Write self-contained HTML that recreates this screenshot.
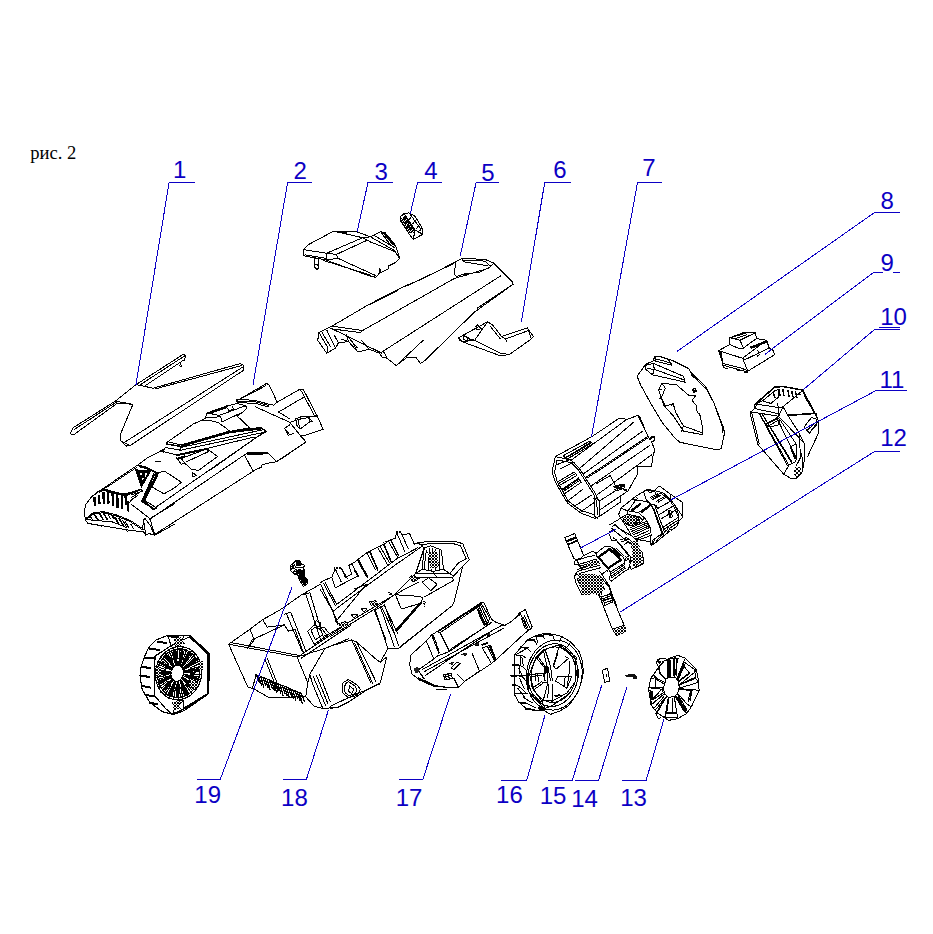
<!DOCTYPE html><html><head><meta charset="utf-8"><style>html,body{margin:0;padding:0;background:#fff}svg{display:block}</style></head><body><svg width="933" height="934" viewBox="0 0 933 934">
<defs><pattern id="h" width="3" height="3" patternUnits="userSpaceOnUse"><rect width="3" height="3" fill="#fff"/><rect width="2" height="2" fill="#000"/><rect x="2" y="2" width="1" height="1" fill="#000"/></pattern><pattern id="h2" width="4" height="4" patternUnits="userSpaceOnUse"><rect width="4" height="4" fill="#fff"/><rect width="2" height="2" fill="#000"/><rect x="2" y="2" width="2" height="2" fill="#000"/></pattern></defs>
<rect width="933" height="934" fill="#fff"/>
<path d="M136.1 384.6L183.9 353.9L185.6 355.4L184.3 360.4L181.1 361.4M139.3 385.4L185.4 355.4M144.7 386.1L180.0 362.5L181.8 366.8L179.0 365.7M136.1 384.6L153.2 388.2L240.1 363.6L243.3 365.3L243.9 370.0L130.3 445.5L126.5 446.1L120.7 440.8L120.0 435.4L132.9 404.3L115.3 401.1L72.9 427.9L70.3 433.9L73.3 435.0L117.4 403.2L132.9 404.3M155.4 388.9L241.1 365.7M242.2 367.4L124.3 442.5M115.3 401.1L136.1 384.6M74.1 429.6L116.2 402.2M120.7 440.8L124.3 442.5L130.3 445.5" fill="none" stroke="#000" stroke-width="1" stroke-linejoin="round" stroke-linecap="round" shape-rendering="crispEdges"/>
<path d="M84.6 510.0L85.7 504.7L91.1 497.2L103.9 488.0L137.7 465.0L147.9 457.5L159.7 451.6L164.0 452.1M106.1 487.7L136.3 467.7M84.6 510.0L85.2 519.7L87.9 523.4L126.4 529.8L143.6 532.0L145.7 535.2L149.0 533.6L154.8 535.2L175.0 524.0M85.7 518.6L93.2 512.7L103.9 511.6L117.9 515.4L130.7 520.7L143.6 529.3M86.3 519.5L93.4 513.8L103.9 512.7L117.7 516.5L130.2 521.6L142.5 529.8M87.3 519.7L112.5 522.0L126.4 527.4M93.2 513.2L98.0 520.7M93.9 513.0L98.7 520.5M98.0 512.2L102.9 519.7M98.7 512.0L103.5 519.5M102.3 512.0L107.2 519.7M103.0 512.0L107.8 519.7M110.4 513.2L113.8 518.8M111.0 513.2L114.4 518.8M114.7 517.0L118.9 525.0M115.3 517.0L119.6 525.0M118.9 518.6L123.2 526.1M119.6 518.6L123.9 526.1M125.4 521.8L128.6 527.4M90.0 515.4L92.7 520.7M107.2 512.7L110.4 518.6M122.7 520.2L126.4 526.6M130.7 524.0L133.4 528.8M98.0 491.3L103.9 488.6L110.4 490.7L117.9 492.9L126.4 493.9L131.8 492.3L139.3 489.7M98.0 492.0L103.9 489.4L110.4 491.6L117.9 493.7L126.4 494.8L131.8 493.2L139.3 490.5M91.1 497.2L98.0 491.6M128.6 492.9L141.5 489.7L142.5 491.3L130.7 495.0M131.8 497.2L139.3 492.9M130.7 500.4L138.2 495.0M128.6 503.6L135.0 497.2M128.1 501.4L128.6 511.1M127.3 501.4L127.8 511.1M135.6 469.8L150.6 470.9L141.5 487.0L135.6 469.8M137.7 465.0L144.7 466.6L154.8 471.4L158.6 473.0M139.3 466.1L150.0 469.3L156.5 472.5M139.3 466.7L150.0 469.9L155.9 472.9M154.8 471.4L141.5 501.4L154.3 509.5L156.5 507.9L144.7 500.4L158.1 473.0M143.6 500.4L153.2 508.4M143.0 501.0L152.8 509.2M155.9 472.0L142.5 500.9M157.0 472.5L143.6 500.6M158.6 473.0L164.0 470.9L175.0 477.9M158.6 473.0L152.2 487.0L164.0 493.9L175.0 487.5M131.8 504.7L150.0 518.6L175.0 503.6M150.0 518.6L154.8 535.2M143.6 519.7L145.7 535.2M143.1 520.2L145.2 518.6L150.0 525.0L154.3 534.7M143.6 519.7L142.5 529.3M155.9 461.6L160.7 461.0M155.9 462.0L160.7 461.5M100.2 525.0L101.3 526.3M126.4 529.8L127.5 531.5" fill="none" stroke="#000" stroke-width="1" stroke-linejoin="round" stroke-linecap="round" shape-rendering="crispEdges"/>
<path d="M94.1 498.0L94.5 505.2M95.0 498.0L95.5 505.2M98.4 495.6L98.8 503.6M99.3 495.6L99.8 503.6M103.1 492.9L103.5 503.6M104.0 492.9L104.5 503.6M107.4 492.3L107.8 503.1M108.3 492.3L108.8 503.1M112.2 492.9L112.6 504.9M113.2 492.9L113.6 504.9M116.6 493.9L117.0 507.0M117.6 493.9L118.0 507.0M121.3 495.0L121.7 508.4M122.3 495.0L122.7 508.4M125.2 495.6L125.6 504.1M126.1 495.6L126.6 504.1" fill="none" stroke="#000" stroke-width="1.6" stroke-linejoin="round" stroke-linecap="round" shape-rendering="crispEdges"/>
<path d="M155.7 533.8L256.1 469.4L262.1 466.9L261.2 465.2L267.2 463.4L276.6 461.7L290.0 453.2M149.7 519.2L243.2 455.7M244.9 455.7L252.6 470.3M243.2 455.7L248.3 452.3L267.2 452.3L276.6 461.7M246.6 454.0L267.2 453.2M247.0 454.7L267.2 453.8M152.3 509.7L264.6 431.7M155.4 461.7L160.5 461.2M181.4 458.3L207.2 448.9L217.5 456.6L198.6 470.3L191.7 469.4L184.9 463.4L181.4 458.3M186.6 461.7L208.9 451.4M177.2 458.3L184.9 455.7L181.4 460.0M178.0 459.2L184.5 456.8M176.3 457.4L181.4 464.3L183.2 463.4M192.6 472.9L196.9 475.4L192.6 476.6L192.6 472.9M173.7 477.0L181.4 482.3L174.2 488.0" fill="none" stroke="#000" stroke-width="1" stroke-linejoin="round" stroke-linecap="round" shape-rendering="crispEdges"/>
<path d="M165.9 443.1L193.6 423.8L201.3 420.6L209.0 420.3L218.0 422.5L224.5 427.0L229.6 431.1M205.2 418.0L207.1 412.9L227.0 405.8L237.3 403.6L245.7 405.8L247.0 408.4L242.5 412.2L221.9 421.9L220.6 416.7L205.8 418.0L201.3 420.6M207.1 412.9L219.3 415.4L220.6 416.7M219.3 415.4L243.7 406.4L245.7 405.8M211.6 412.2L227.0 407.1M207.5 413.4L227.3 406.3M208.0 413.9L227.0 407.5M227.0 407.7L229.0 410.9L233.5 409.0L232.2 406.4M242.5 412.2L237.3 416.1L249.5 427.7L229.6 431.5M166.6 443.7L180.1 446.0L180.7 450.2L165.3 447.6L163.4 449.5M167.9 441.8L180.7 445.0M165.9 443.1L167.9 441.8M166.8 444.2L180.2 446.6M180.7 445.0L228.3 431.5L261.1 427.4L266.3 431.5L256.6 437.3M181.4 447.3L263.7 429.6M180.7 450.2L266.3 431.8M181.0 445.8L228.6 432.2L261.2 428.0M181.2 446.6L229.0 432.9L262.4 428.8M176.2 454.7L206.4 448.6L252.7 437.3L256.6 437.3M256.6 437.3L210.3 470.0M206.4 448.6L207.7 450.8M176.9 455.6L206.4 449.6M163.4 449.5L155.0 454.0M165.3 447.6L162.7 451.4L176.2 454.7" fill="none" stroke="#000" stroke-width="1" stroke-linejoin="round" stroke-linecap="round" shape-rendering="crispEdges"/>
<path d="M236.6 400.9L266.6 383.4L269.2 385.1L277.2 402.2L273.5 405.2M242.6 397.8L265.7 385.8M236.6 400.0L239.2 399.2L255.5 400.5L269.2 404.3L273.5 405.2M237.5 402.6L255.5 403.4L268.3 406.9M236.6 400.0L237.5 402.6M236.9 401.2L255.5 401.9L268.8 405.5M277.2 402.2L300.0 389.2L303.5 389.7L317.2 416.3L323.2 429.2L303.5 436.0L300.0 435.2M300.0 389.2L302.6 393.2L313.8 414.6M278.6 412.0L303.5 397.4M278.6 412.0L289.8 418.9M255.5 406.9L289.8 422.3L298.3 419.7L317.2 415.4M289.8 422.3L300.0 435.2L306.1 442.0L277.8 460.9M295.8 418.9L301.8 416.0L307.8 416.0L310.3 421.4L300.0 429.2L296.6 424.9L295.8 418.9M307.8 416.0L312.9 416.3L317.2 416.0M301.8 416.0L298.3 421.4L300.0 429.2M308.6 417.2L312.1 421.4L310.3 421.4M289.8 424.9L284.6 428.3L288.0 435.2L293.2 433.5M285.5 429.2L289.8 434.8" fill="none" stroke="#000" stroke-width="1" stroke-linejoin="round" stroke-linecap="round" shape-rendering="crispEdges"/>
<path d="M303.6 249.7L307.9 244.9L333.6 231.2L356.7 231.7L370.5 236.9L380.7 231.7L385.0 232.6L396.2 247.2L399.6 258.3L395.3 262.6L388.5 266.0L388.5 268.6L380.7 272.9L379.9 268.6L379.0 273.7L375.6 277.2L370.5 276.3L325.9 260.0L303.6 255.7L303.6 249.7M303.6 249.7L326.7 253.2L336.2 254.5M326.7 253.2L362.7 237.7L370.5 236.9M336.2 254.5L367.0 240.3M333.6 231.2L362.7 237.7M336.2 254.5L337.9 258.3L325.9 260.0M337.9 258.3L375.6 275.5M326.7 253.2L325.9 260.0M370.5 236.9L394.5 250.6L399.6 258.3M373.9 235.2L395.3 248.0M362.7 237.7L370.5 242.0L394.5 251.4M380.7 231.7L382.5 234.3L391.0 245.4L395.3 248.0M385.0 232.6L393.6 242.9L396.2 247.2M382.8 232.6L392.4 244.2M383.8 232.9L393.1 243.6M381.6 233.4L390.2 244.9M314.7 257.5L314.7 267.7L318.2 268.6L319.0 259.2M314.7 264.3L318.2 265.2M314.2 267.7L317.3 269.5L318.2 268.6M305.3 254.9L325.9 258.3M323.3 260.4L370.5 275.1M339.6 231.7L346.4 232.6M339.9 232.2L346.4 233.1" fill="none" stroke="#000" stroke-width="1" stroke-linejoin="round" stroke-linecap="round" shape-rendering="crispEdges"/>
<path d="M400.0 217.1L403.9 213.7L409.0 212.9L415.0 216.3L421.9 227.4L422.8 234.3L413.3 239.4L408.2 232.6L400.5 220.6L400.0 217.1M403.9 213.7L406.5 217.1L415.0 230.0L422.8 234.3M409.0 212.9L411.6 216.3L420.2 228.3M415.0 230.0L413.3 239.4M400.5 219.7L409.0 233.4M401.7 218.5L410.2 232.9M403.0 217.5L412.0 232.6M404.4 216.8L413.3 232.6M405.8 217.1L414.2 231.2M411.6 216.3L409.6 219.2M415.0 220.6L413.0 223.5M418.5 225.7L416.4 228.6M421.9 227.4L419.8 230.9M401.0 221.4L404.8 218.9M403.0 224.9L406.8 222.0M405.1 228.0L408.9 225.0M407.2 231.0L410.9 228.1" fill="none" stroke="#000" stroke-width="1" stroke-linejoin="round" stroke-linecap="round" shape-rendering="crispEdges"/>
<path d="M331.9 326.2L369.2 304.3L405.2 285.8L423.2 278.6L454.1 262.6L461.8 258.5L484.9 259.3L493.9 263.2L511.9 281.2L513.2 284.2L474.6 312.0L424.5 360.9L420.6 363.5L415.5 357.0L407.7 357.0L396.2 365.5L387.2 358.3L383.3 351.1M369.7 304.8L397.5 290.7M405.7 286.3L453.5 263.7M455.3 262.6L454.6 274.7L456.6 276.5L464.3 274.0L479.8 272.2L490.1 267.0L493.9 263.2M461.8 258.5L464.3 261.9L487.5 265.7M461.8 260.1L484.9 261.1L490.1 265.7M464.3 274.0L466.9 276.0M331.9 326.2L362.7 330.5L360.2 332.6L330.6 328.7M362.7 330.5L454.1 278.6L490.1 267.8M383.3 351.1L500.4 276.0M331.9 328.7L382.0 353.2M331.9 326.2L319.0 332.6L317.7 340.3L326.7 353.2L335.7 348.0L338.3 342.9L348.6 341.6L357.6 351.9L369.2 349.3L379.5 353.2L383.3 351.1M319.0 332.6L328.0 348.0L326.7 353.2M326.7 330.0L334.4 345.5L335.7 348.0M338.3 342.9L334.4 335.2M348.6 341.6L346.0 333.9M357.6 351.9L352.4 341.6M369.2 349.3L361.4 340.3M321.6 331.6L330.6 346.8M379.5 353.2L382.0 357.0L387.2 358.3M340.9 339.0L348.6 341.6M348.6 337.7L357.6 348.0M477.2 308.2L513.2 284.2M396.2 365.5L423.2 340.3" fill="none" stroke="#000" stroke-width="1" stroke-linejoin="round" stroke-linecap="round" shape-rendering="crispEdges"/>
<path d="M458.7 337.7L487.5 321.8L492.6 324.9L501.6 336.5L527.4 328.0L533.3 336.5L531.2 339.0L509.4 354.5L500.4 355.8L461.8 341.6L458.7 337.7M487.5 321.8L474.6 340.3L461.8 341.6M464.3 335.7L469.5 339.0L474.6 340.3M477.2 324.9L481.1 328.7L477.2 330.0L475.9 326.2L477.2 324.9M463.1 336.5L468.2 337.2L467.4 340.3L463.1 339.8L463.1 336.5M501.6 336.5L505.5 339.0L528.6 330.5L527.4 328.0M505.5 339.0L506.8 341.6M474.6 340.3L500.4 353.2L509.4 354.5M490.1 326.2L500.4 339.0M528.6 330.5L531.2 339.0M458.7 337.7L459.7 340.3L461.8 341.6" fill="none" stroke="#000" stroke-width="1" stroke-linejoin="round" stroke-linecap="round" shape-rendering="crispEdges"/>
<path d="M555.4 456.6L552.0 472.0L555.4 482.3L567.4 502.9L581.2 513.2L594.9 518.3L599.2 516.6L599.2 501.2L594.9 492.6L579.4 468.6L570.9 460.0L555.4 456.6M557.1 460.0L554.6 472.0L557.1 481.5L568.3 501.2L581.2 510.6L594.9 514.9M557.1 460.0L570.9 462.6L578.6 470.3L593.2 493.5L596.6 501.2L597.5 514.9M555.4 456.6L591.4 436.9L618.9 418.5L627.5 419.2L637.8 415.4L639.5 416.3L644.6 428.3M570.9 460.4L625.7 420.2M579.4 468.6L633.5 422.3M583.7 473.7L642.9 430.9M586.3 477.2L647.2 436.9M587.0 478.2L647.7 438.1M591.4 485.7L649.8 445.4M596.6 495.2L651.5 454.9M637.8 415.4L642.9 425.7L649.8 439.4L654.0 436.9L654.9 440.3L651.5 442.0L654.9 449.7L653.2 454.9L651.5 466.9L637.8 466.0L637.8 473.7L627.5 491.8L625.7 489.2M649.8 439.4L651.5 436.9L654.0 436.0L654.0 436.9M599.2 501.2L620.6 487.5L627.5 491.8M599.2 516.6L620.6 502.0L620.9 496.0M600.0 509.8L625.7 492.6M595.7 484.0L610.3 475.5L615.5 485.7L624.0 484.0L624.9 487.5L617.2 490.9M613.7 486.6L624.0 485.4M614.1 487.8L623.7 486.6M614.8 489.2L622.3 488.1M563.2 455.7L589.7 441.2L593.2 443.7L566.6 459.2L563.2 455.7M570.0 454.9L589.7 443.7M568.3 456.6L591.4 442.9M565.7 457.5L590.6 442.4M569.2 458.0L592.3 444.2M557.1 482.3L574.3 472.0L576.9 475.5L558.9 485.7M562.3 489.2L578.6 478.0L581.2 482.3L564.9 493.5M560.6 468.6L574.3 462.1M567.4 501.2L582.9 489.2M558.0 484.0L575.2 473.7M563.7 491.2L579.8 480.3M563.2 490.0L579.1 478.9M555.4 465.2L569.2 460.0M574.3 506.3L591.4 495.2M581.2 511.5L594.9 502.0M594.9 499.5L594.9 516.6L597.5 518.3M593.2 498.6L596.6 497.8L599.2 501.2" fill="none" stroke="#000" stroke-width="1" stroke-linejoin="round" stroke-linecap="round" shape-rendering="crispEdges"/>
<path d="M637.1 376.3L645.7 364.3L653.4 360.9L654.3 356.6L661.2 356.6L671.4 360.0L688.6 368.6L691.2 372.9L705.7 386.6L713.5 402.0L722.9 426.0L724.6 432.9L721.2 448.3L717.8 450.0L680.0 442.3L674.9 438.0L662.9 423.5L650.9 403.7L640.6 384.9L637.1 376.3M691.2 372.9L692.0 375.4L706.6 389.2L714.3 403.7L722.0 426.0L722.9 432.9M645.7 365.2L653.4 363.4L683.5 376.3L685.2 382.3L678.3 380.6L652.6 374.9L645.7 369.4L645.7 365.2M653.4 363.4L654.3 369.4L683.5 379.7M654.3 369.4L652.6 374.9M647.4 368.6L654.3 369.4M653.4 358.3L669.7 362.6L671.4 365.2L654.3 360.9M661.2 357.1L668.0 359.2L671.4 363.4M655.2 357.4L655.2 360.5M662.0 383.2L676.6 384.9L688.6 395.2L695.5 396.0L692.0 400.3L696.3 405.5L697.2 412.3L699.7 414.0L702.3 426.0L702.3 434.6L683.5 431.2L673.2 415.7L663.7 405.5L658.6 390.0L662.0 383.2M662.0 383.2L665.4 388.3L661.2 397.7L665.4 406.3L673.2 403.7L675.7 412.3L683.5 426.0L702.3 432.9M658.6 390.0L661.2 389.2M661.2 397.7L659.4 398.6M673.2 403.7L671.4 405.5M683.5 426.0L681.7 431.2M692.0 389.2L695.5 388.3L696.3 391.7L693.7 392.6L692.0 389.2M693.4 389.7L695.1 391.4" fill="none" stroke="#000" stroke-width="1" stroke-linejoin="round" stroke-linecap="round" shape-rendering="crispEdges"/>
<path d="M718.6 350.6L729.8 344.6L729.8 337.7L743.5 332.6L755.5 332.6L756.3 338.6L766.6 340.3L769.2 348.0L773.5 350.6L774.3 354.9L747.8 371.2L744.3 371.2L722.9 365.2L722.0 360.9L718.6 350.6M729.8 344.6L740.0 348.9L743.5 348.0L756.3 338.6M729.8 337.7L740.0 340.3L743.5 348.0M740.0 340.3L755.5 332.6M733.2 336.9L745.2 333.4M734.9 338.6L746.9 334.8M731.5 337.5L743.8 333.1M718.6 350.6L742.6 358.3L766.6 340.3M742.6 358.3L747.8 371.2M721.2 352.3L722.9 363.4L743.5 368.6M742.6 358.3L744.3 360.0L769.2 348.0M719.8 351.4L722.0 360.9M750.3 347.1L765.8 341.1M751.2 348.5L766.6 342.3M750.7 347.8L766.1 341.7M757.2 350.6L759.3 352.0L757.9 353.3L759.6 354.7L757.5 356.1M722.9 365.2L723.8 367.7L727.2 368.6M736.6 368.6L737.5 370.3L740.0 370.3M744.3 371.2L744.8 372.9L747.8 372.0M747.8 371.2L774.3 354.9M743.5 369.1L746.9 370.3" fill="none" stroke="#000" stroke-width="1" stroke-linejoin="round" stroke-linecap="round" shape-rendering="crispEdges"/>
<path d="M754.1 404.7L774.7 386.7L782.4 386.1L803.0 389.9L814.6 412.4L818.5 421.4L818.5 433.0L807.5 456.8M754.1 404.7L754.8 408.6L750.9 411.8L750.3 414.4L758.0 444.6L783.7 474.2L790.2 478.0L796.6 478.0L801.7 472.9L803.0 467.7L804.3 460.0L804.3 443.3L799.2 433.0M754.8 405.4L774.1 387.7L782.4 386.7L802.8 390.3L783.1 406.7L778.6 407.6L756.7 404.1M762.5 400.9L774.1 391.2L778.6 389.3L778.6 397.0L770.9 403.4L762.5 400.9M778.6 389.3L779.9 395.7M779.1 389.3L780.4 395.7M782.4 389.3L783.7 396.0M783.0 389.3L784.2 396.0M787.6 390.3L788.9 396.5M788.1 390.3L789.4 396.5M791.4 391.2L792.7 397.0M792.0 391.2L793.2 397.0M795.3 391.9L796.6 397.3M795.8 391.9L797.1 397.3M799.2 392.1L800.2 395.1M772.8 392.5L774.7 397.7M773.4 392.5L775.4 397.7M803.0 389.9L804.3 395.7L814.0 412.4M802.4 390.6L812.7 409.9M802.8 390.3L813.3 411.2M783.1 406.7L787.6 415.0L815.9 413.1L818.5 421.4M787.6 415.0L799.2 433.0M787.6 415.7L810.7 414.0M787.8 415.4L811.0 413.7M750.9 411.8L778.6 416.3L783.1 406.7M778.6 416.3L804.3 443.3M750.3 414.4L752.2 412.4M752.2 414.4L759.3 444.0M754.8 408.6L778.6 413.7M758.0 413.7L759.9 414.4L788.9 465.2L783.7 474.2M759.9 414.4L761.9 413.7L791.4 462.6M759.3 413.7L787.6 465.8M762.5 414.4L792.1 462.0M766.4 423.4L777.3 417.6L779.9 419.5L778.6 424.7L772.2 426.6L767.7 426.6L766.4 423.4M769.6 425.3L777.3 420.8M767.0 424.0L777.9 418.6M777.3 418.9L796.6 458.7L795.3 462.0L788.9 465.2M779.9 419.5L796.6 444.6L796.6 458.7M790.2 447.2L795.9 444.0M790.2 447.2L794.7 458.7M790.8 447.8L795.3 458.7M804.3 426.6L811.4 417.6L815.9 418.9L817.2 422.7L809.5 433.0L806.9 430.5L804.3 426.6M806.9 430.5L814.0 424.0M809.5 433.0L817.2 424.0M799.2 433.0L800.5 457.5L796.6 465.2M801.7 453.6L803.0 467.7M778.6 407.6L778.6 416.3M756.7 404.1L754.8 408.6M759.3 402.2L762.5 400.9M777.3 403.4L778.6 407.6" fill="none" stroke="#000" stroke-width="1" stroke-linejoin="round" stroke-linecap="round" shape-rendering="crispEdges"/>
<path d="M619.4 512.6L620.7 508.3L633.2 498.4L635.7 496.3L643.4 491.6L647.7 489.4L654.6 490.7L659.3 486.0L670.5 494.2L682.9 502.7L682.9 516.9L678.6 521.2L677.8 524.6L676.9 526.3L669.2 531.5L654.6 543.5L651.2 545.2L650.3 541.7L635.7 539.2L631.4 535.7L627.2 528.0L620.3 517.7L618.6 514.3L619.4 512.6M633.2 498.4L635.7 500.2L646.9 501.4L651.2 504.9M620.7 508.3L628.0 510.9L638.3 512.6L644.3 517.7M635.7 500.2L628.0 510.9M638.3 512.6L651.2 504.9M633.6 499.3L635.3 500.6M631.4 510.0L640.0 503.2M631.9 510.7L640.4 503.8M632.3 511.2L640.7 504.5M640.9 511.7L649.5 504.9M641.3 512.4L649.9 505.6M641.7 512.9L650.1 506.2M647.7 489.4L649.5 492.9L654.6 490.7M643.4 491.6L646.9 501.4M635.7 496.3L637.4 498.9L635.7 500.2M646.9 489.9L654.6 491.6M651.2 504.9L652.9 508.3L663.2 534.9L664.0 536.6M654.6 504.9L664.9 533.2M652.9 504.0L655.5 505.7M647.7 500.6L651.2 504.9L654.6 504.9L658.0 508.3M652.0 505.7L662.5 534.9M653.6 508.3L663.9 535.7M654.6 490.7L663.2 492.9L670.5 499.7L675.2 505.7L678.6 514.3L678.6 521.2M655.5 494.6L661.5 493.7L670.0 500.6L674.3 507.4L677.8 516.0M658.0 508.3L671.7 500.6L670.5 499.7M659.7 514.3L673.5 505.7M661.5 518.6L676.0 510.0M658.0 502.3L664.9 498.0M656.3 505.7L658.0 508.3L659.7 507.4M650.3 497.2L658.0 493.7M651.2 498.4L658.9 495.0M652.0 499.7L660.6 495.4M656.3 501.4L663.2 497.2M668.3 510.9L670.0 517.7L672.6 516.9L670.9 510.4L668.3 510.9M669.2 511.3L670.7 517.0M663.2 527.2L677.8 517.7M664.9 531.5L677.8 522.9M664.0 529.3L677.8 520.3M675.2 505.7L676.9 508.3L682.9 516.9M670.5 494.2L670.5 499.7M654.6 543.5L661.5 534.9L663.2 534.9M651.2 545.2L652.9 540.0L661.5 534.0M652.9 543.5L654.6 540.0M629.7 528.0L646.9 521.2L650.3 528.0L651.2 534.9L650.3 541.7M631.4 531.5L647.7 524.6M633.2 534.9L648.6 528.0M635.7 539.2L649.5 533.2M638.3 540.0L650.3 535.7M644.3 517.7L646.9 521.2M630.6 529.7L647.3 522.9M632.3 533.2L648.2 526.3M634.4 537.0L649.0 530.6M610.0 524.6L618.6 519.5L620.3 517.7M612.6 526.3L615.1 524.6L618.6 528.0M610.0 531.5L613.4 529.7L629.7 543.5M611.7 528.0L614.3 531.5M615.1 524.6L627.2 534.9M618.6 528.0L631.4 535.7M622.9 516.9L627.2 514.3L632.3 515.2L639.2 516.9L642.6 520.3L638.3 524.6L629.7 525.5L623.7 522.9L622.9 516.9M620.3 517.7L622.9 516.9M627.2 514.3L628.0 510.9M642.6 520.3L644.3 517.7M623.7 518.6L639.2 517.7M624.2 519.9L640.0 519.0M624.6 521.2L639.6 520.7M625.4 522.5L638.7 522.5M627.2 523.7L637.4 523.9M625.4 516.0L627.2 524.6M628.0 514.7L629.7 525.3M630.6 515.0L632.3 525.3M633.2 515.3L634.9 525.0M635.7 516.0L637.3 524.6M638.3 516.9L639.6 523.3" fill="none" stroke="#000" stroke-width="1" stroke-linejoin="round" stroke-linecap="round" shape-rendering="crispEdges"/>
<path d="M564.7 537.7L574.7 533.5L575.9 536.5L583.6 555.3L581.2 558.3L576.5 559.4L574.1 558.9L564.7 537.7M566.5 540.6L575.3 537.1M568.2 544.1L576.5 540.6M567.1 541.8L575.9 538.2M566.8 541.2L575.5 537.7M568.5 544.7L576.7 541.2M574.1 561.2L577.7 560.6L578.3 564.2L574.7 564.7L574.1 561.2M600.0 575.9L609.5 587.7L611.8 596.0L624.2 625.4L626.0 630.1L624.2 633.1L616.5 635.4L613.6 631.3L611.8 627.8L601.2 600.7L598.9 596.0L594.2 586.5M601.2 597.1L610.6 593.6M603.6 600.7L611.8 598.3L613.0 601.8L604.8 605.4L603.6 600.7M613.0 628.9L624.2 625.4M604.2 603.0L612.4 600.4M602.4 598.9L611.2 595.7M616.5 635.4L624.2 633.1" fill="none" stroke="#000" stroke-width="1" stroke-linejoin="round" stroke-linecap="round" shape-rendering="crispEdges"/>
<path d="M599.3 557.3L609.6 550.0L619.9 559.9L607.9 567.6L599.3 557.3M597.6 556.9L609.6 548.3L621.6 559.9L607.9 569.3L597.6 556.9M596.7 556.4L595.9 553.4L605.3 546.1L611.3 547.0L623.3 557.3L625.0 560.7L624.2 563.3L610.5 571.9L607.9 569.3M608.2 568.1L620.2 560.4M608.6 568.6L620.6 560.9M598.4 557.1L609.6 549.2L620.7 559.9M613.0 549.6L619.9 556.4M614.7 548.7L621.6 555.6M616.5 548.3L623.3 555.2M625.0 560.7L628.5 559.0L630.2 563.3L628.5 569.3L625.0 571.0L611.3 581.3L609.6 579.6L610.5 571.9M611.3 576.2L625.0 566.7M611.7 577.9L625.0 568.4M610.9 574.0L624.6 564.6M583.4 555.6L590.7 552.2L593.3 551.3L595.9 553.4M578.7 559.9L585.6 557.3L594.2 555.6M577.9 564.2L582.2 569.3L577.0 571.9L574.4 576.2L576.1 583.0L582.2 595.0L584.7 594.2L587.3 590.7M577.9 569.3L599.3 563.3M578.7 571.0L600.2 565.0M582.2 572.7L601.0 567.6M575.3 575.3L582.2 572.7M578.3 564.6L596.7 559.0M579.6 566.3L597.6 560.7M580.4 568.0L598.4 562.0M577.0 577.9L583.0 593.3M579.6 577.0L585.6 592.5M582.2 576.2L588.2 590.7M587.3 575.3L593.3 591.6M590.7 576.2L596.7 594.2M593.3 575.3L599.3 595.0M595.9 576.2L601.9 595.0M599.3 575.3L604.5 589.9M601.9 574.5L609.6 586.5L612.2 595.0L616.5 605.0M589.0 586.5L601.0 596.7L602.7 605.0M601.0 596.7L611.3 594.2M601.9 600.2L613.0 597.6M584.7 574.5L589.9 589.9M599.3 571.0L601.9 574.5L607.9 569.3M613.0 537.6L616.5 540.1L630.2 556.4L630.2 563.3M624.2 544.4L628.5 541.9L633.6 542.7M630.2 543.6L642.2 552.2L643.9 563.3L640.5 565.0L633.6 568.4L631.0 569.3L630.2 566.7M609.6 535.0L611.3 540.1L616.5 540.1M614.7 538.4L628.5 555.6M631.9 544.4L638.8 550.4M632.8 547.0L639.6 553.0M633.6 549.6L640.5 555.6M634.5 552.2L641.3 558.2M635.3 554.7L642.2 560.7M631.9 557.3L641.3 563.3M631.0 560.7L638.8 565.0M633.6 543.6L636.2 567.6M636.2 545.3L638.8 566.7M638.8 547.9L641.3 565.0M619.9 540.1L626.7 537.6L633.6 542.7M621.6 541.9L627.6 539.3" fill="none" stroke="#000" stroke-width="1" stroke-linejoin="round" stroke-linecap="round" shape-rendering="crispEdges"/>
<path d="M228.6 644.2L250.0 629.2L262.8 619.6L280.0 609.9L301.4 594.9L320.6 584.2M228.6 644.2L297.1 657.0L307.8 682.7L305.7 696.7M228.6 644.2L247.8 687.0L254.3 689.2L269.3 697.7L305.7 696.7L314.2 706.3L322.8 708.4L337.8 707.4L348.5 702.0L367.8 689.2L380.0 683.8M230.7 642.5L298.2 655.3M297.1 657.0L324.9 648.5L348.5 638.8M324.9 648.5L309.9 674.2L312.1 682.7L322.8 708.4M309.9 674.2L307.8 682.7M299.2 656.0L348.5 622.8M301.4 658.1L350.6 625.4M284.2 614.2L290.7 612.1L305.7 650.6M288.5 631.3L294.9 629.2L303.5 652.8M301.4 594.9L305.7 593.9L320.6 639.9M305.7 593.9L309.9 592.8L322.8 635.6M320.6 584.2L339.9 627.1M286.4 613.8L302.4 651.7M250.0 629.2L254.3 639.9L247.8 648.5M262.8 619.6L267.1 627.1L284.2 624.9L288.5 631.3M252.1 639.9L284.2 624.9M247.8 648.5L252.1 639.9M265.0 659.2L277.8 691.3M267.1 658.1L280.0 690.2M343.1 682.7L348.5 679.5L357.0 684.9L360.3 689.2L357.0 695.6L348.5 697.7L343.1 693.4L342.1 687.0L343.1 682.7M345.3 683.8L348.5 681.7L354.9 686.0L357.0 690.2L354.9 693.9L348.9 695.6L345.1 692.6L344.6 687.9L345.3 683.8M349.6 686.0L353.8 689.2L351.7 693.4L348.5 691.3L349.6 686.0M313.1 676.3L326.0 706.3M316.4 675.2L328.1 704.2M319.6 674.6L330.3 702.0M307.8 631.3L314.2 624.9L320.6 627.1L327.1 635.6L314.2 644.2L307.8 631.3M311.0 630.3L315.3 627.1L319.6 628.8L322.8 634.6L315.3 639.9L311.0 630.3M314.2 624.9L316.4 620.6L320.6 622.8L320.6 627.1M255.3 674.2L301.4 693.4M252.1 689.2L256.4 674.2" fill="none" stroke="#000" stroke-width="1" stroke-linejoin="round" stroke-linecap="round" shape-rendering="crispEdges"/>
<path d="M320.0 583.1L323.5 580.7L331.8 577.2L335.3 568.9L341.2 567.7L345.3 577.2L351.8 574.2L348.9 565.4L354.2 562.4L366.6 553.0L377.8 547.1L384.3 543.6L388.4 540.6L395.5 538.3L396.6 531.8L400.2 531.8L402.5 534.7L409.6 533.5L414.3 544.1L419.0 543.0M320.0 588.9L333.0 611.3L335.9 621.4L337.7 624.3M323.5 583.1L335.3 605.5M325.3 582.5L336.5 604.3M331.8 577.2L335.3 587.8L337.7 586.6M335.3 568.9L341.2 581.9M341.2 567.7L347.1 578.3M335.3 587.8L357.7 576.0L354.2 570.1M345.3 577.2L348.3 576.0M351.8 564.2L358.9 576.6M357.7 560.7L367.2 577.7M358.9 560.1L367.7 576.6M358.4 560.4L367.4 577.2M367.2 553.0L375.4 569.5M369.5 551.8L377.8 570.7M370.2 551.6L378.2 570.1M377.8 547.7L387.2 564.2M380.1 546.5L389.6 563.0M383.7 544.7L390.7 561.8M384.3 544.4L391.2 561.4M388.4 541.2L397.8 557.7M390.7 540.0L398.4 555.3M396.6 532.4L404.9 551.8M401.3 533.5L408.4 548.9M333.0 611.3L367.2 585.4L395.5 564.8L422.6 545.9M335.3 605.5L396.6 558.9L417.9 547.7M354.2 588.9L367.2 584.2L367.2 586.0M335.9 621.4L366.0 584.8M337.7 624.3L345.3 621.4L347.7 624.3L340.0 627.9L337.7 624.3M351.2 614.3L357.7 614.9L353.6 617.8L351.2 614.3M361.3 608.4L367.2 609.0L363.6 611.9L361.3 608.4M369.5 601.9L375.4 600.7L377.8 603.7L371.9 606.0L369.5 601.9M389.0 592.5L391.9 594.3L389.6 594.8M395.5 594.8L401.3 609.0L421.4 603.1L422.6 597.2L414.3 596.0L395.5 594.8M395.5 594.3L409.6 586.6L419.0 581.9M421.4 603.1L396.6 631.4L395.5 630.2L420.2 602.5M420.8 602.9L396.0 630.8M374.2 610.2L386.0 640.0M381.3 606.6L395.5 636.1M384.3 605.5L397.8 633.7M374.2 610.2L384.3 605.5M409.6 577.2L414.3 575.4L417.9 579.5L413.1 581.9L409.6 577.2M320.0 626.7L324.7 627.9L329.4 633.7L323.5 636.1" fill="none" stroke="#000" stroke-width="1" stroke-linejoin="round" stroke-linecap="round" shape-rendering="crispEdges"/>
<path d="M256.4 674.6L259.4 682.7M258.5 675.5L261.5 684.9M260.7 676.3L263.7 687.0M262.8 677.2L265.8 685.3M265.0 678.0L268.0 687.5M267.1 679.1L270.1 689.8M269.3 680.0L272.2 688.1M271.4 680.8L274.4 690.2M273.5 681.7L276.5 692.4M275.7 682.5L278.7 690.7M277.8 683.6L280.8 693.0M280.0 684.5L283.0 695.2M282.1 685.3L285.1 693.4M284.2 686.2L287.2 695.6M286.4 687.0L289.4 697.7M288.5 688.1L291.5 696.2M290.7 689.0L293.7 698.4M292.8 689.8L295.8 700.5M294.9 690.7L297.9 698.8M297.1 691.5L300.1 700.9M299.2 692.6L302.2 703.3M301.4 693.4L304.4 701.6" fill="none" stroke="#000" stroke-width="1.3" stroke-linejoin="round" stroke-linecap="round" shape-rendering="crispEdges"/>
<path d="M290.2 565.5L296.1 560.5L299.8 560.2L300.4 563.4L304.7 565.5L303.6 567.1L302.0 574.7L297.7 575.2L293.9 574.1L290.2 569.8L290.2 565.5M290.2 565.5L293.9 563.4L296.1 560.5M293.9 563.4L295.5 567.7L290.2 569.8M295.5 567.7L303.6 567.1M300.4 563.4L298.8 566.1" fill="none" stroke="#000" stroke-width="1" stroke-linejoin="round" stroke-linecap="round" shape-rendering="crispEdges"/>
<path d="M417.8 542.5L430.6 541.4L454.2 541.4L462.8 543.6L469.2 559.6L462.8 566.0L454.2 601.4L452.1 605.7L400.7 646.3L398.5 648.5M419.9 544.6L431.7 543.6L453.1 543.6L460.6 545.7L466.0 558.5M417.8 542.5L424.2 547.8L415.7 573.5L411.4 577.8L394.2 594.9L330.0 633.5M330.0 636.7L375.0 608.9L394.2 594.9M375.0 608.9L387.8 648.5L398.5 648.5M380.3 606.7L394.2 646.3M384.6 604.6L398.5 645.3M398.5 648.5L452.1 605.7M330.0 646.3L351.4 639.9L356.8 642.1L376.0 659.2L380.3 662.4L386.7 650.6L387.8 648.5M351.4 639.9L353.6 644.2L370.7 682.7M356.8 642.1L376.0 681.7M354.6 643.1L372.8 683.8M380.3 662.4L386.7 657.0L380.3 682.7L368.5 689.2L357.8 693.4L330.0 706.3M330.0 708.4L338.6 707.4M411.4 577.8L452.1 577.8L454.2 580.0L424.2 597.1M415.7 573.5L449.9 573.5L453.1 576.1M452.1 577.8L462.8 566.0M449.9 573.5L458.5 562.8L467.0 558.5M424.2 547.8L430.6 545.7L441.3 550.0L443.5 569.3L432.8 571.4L422.1 569.3L424.2 547.8M426.4 550.0L424.2 568.2M429.6 548.9L428.1 569.3M432.8 548.9L431.9 570.3M436.0 548.9L435.8 570.3M439.2 550.0L439.6 569.7M422.1 569.3L415.7 573.5M432.8 571.4L437.1 577.8M443.5 569.3L449.9 573.5M411.4 575.7L415.7 580.0L419.9 577.8M422.1 582.1L430.6 590.7L437.1 584.2L428.5 577.8L422.1 582.1" fill="none" stroke="#000" stroke-width="1" stroke-linejoin="round" stroke-linecap="round" shape-rendering="crispEdges"/>
<path d="M410.5 655.3L426.3 641.0L431.5 635.0L437.5 631.3L481.8 602.0L484.0 602.8L491.5 619.3L496.0 622.3L505.0 625.3L512.5 620.8L520.0 612.5L525.3 609.5L532.1 626.8L530.6 629.0L524.5 633.5L496.0 659.8L491.5 663.5L464.5 681.5L458.5 687.5L448.0 687.5L433.0 686.0L419.5 680.0L412.0 674.0L409.8 665.0L410.5 655.3M426.3 641.0L433.8 659.0L437.5 656.0L449.5 651.5L440.5 633.5L437.5 631.3M431.5 635.0L439.0 653.8M433.8 659.0L421.0 668.0L415.0 671.8M439.8 632.8L481.0 605.0M438.7 631.4L481.8 603.2M449.5 651.5L484.0 627.5L491.5 622.3M450.3 649.3L490.0 623.8M422.5 669.5L500.5 626.0L505.0 625.3M424.0 671.8L503.5 628.3M425.5 675.5L454.0 656.0L485.5 635.0M478.0 606.5L481.8 604.3L490.0 618.5L485.5 626.8L478.0 609.5M478.0 608.0L486.3 626.0M479.5 607.3L487.8 625.3M481.0 606.2L488.8 622.3M520.0 612.5L527.6 630.5L530.6 629.0M521.5 618.5L525.3 629.0M523.0 617.0L527.6 627.5M524.5 615.8L529.4 627.2M520.8 614.0L517.0 617.0L515.5 618.5M472.0 653.0L479.5 671.0L464.5 681.5M481.8 647.0L491.5 663.5M482.5 647.8L490.0 645.5L496.0 659.8M487.8 647.0L493.8 659.8M489.3 646.4L494.8 659.3M490.8 645.8L495.7 658.7M485.5 634.3L490.0 633.5L489.3 635.8L485.5 634.3M473.5 644.8L478.8 643.3L478.0 645.5L473.5 644.8M461.5 654.5L466.8 653.0L466.0 655.3L461.5 654.5M449.5 663.5L453.3 662.3L452.5 664.7L449.5 663.5M481.8 644.8L487.0 642.5M482.2 645.5L487.3 643.4M412.0 674.0L419.5 680.0M418.0 678.5L433.0 685.3L448.0 687.5M418.3 677.8L433.3 684.5M421.0 674.0L424.0 678.5M419.5 671.8L422.5 677.0M443.5 674.8L451.0 673.3L452.5 678.5L445.0 680.0L443.5 674.8M445.0 674.0L446.5 679.7M448.0 673.7L449.5 679.3M443.8 676.7L451.8 675.5M451.0 668.0L457.0 662.0L460.0 663.5L454.0 669.5L451.0 668.0M457.0 674.0L464.5 681.5M454.0 678.5L458.5 687.5M432.3 635.8L433.8 639.5M433.3 635.3L435.3 640.3M434.5 638.8L436.8 644.0M435.4 641.8L437.5 647.0M436.3 644.3L438.7 650.0M437.5 647.8L439.3 653.0M477.3 609.5L479.5 614.0M478.3 612.5L481.0 617.8M479.5 615.5L482.5 621.5M481.0 619.3L484.0 625.3M436.0 689.0L446.5 689.8" fill="none" stroke="#000" stroke-width="1" stroke-linejoin="round" stroke-linecap="round" shape-rendering="crispEdges"/>
<path d="M140.0 675.4L141.1 666.8L144.3 657.2L148.6 647.5L156.1 640.0L167.9 635.2L183.9 635.2L190.4 635.7L209.7 653.9L209.7 673.2L207.5 694.7L183.9 710.7L173.2 714.5L162.5 711.8L149.7 702.2L142.1 689.3L140.0 675.4M155.0 656.1L170.0 646.4L189.3 636.8L208.6 655.0L208.6 693.6L185.0 708.6L172.2 714.0M155.0 656.1L154.5 695.7L165.7 708.6L172.2 714.0M189.3 636.8L191.5 637.6L207.5 653.9L207.5 693.6L185.0 707.5M201.3 677.2L200.2 681.3L198.7 685.2L196.7 688.8L194.2 692.0L191.3 694.7L188.1 696.9L184.7 698.5L181.2 699.6L177.5 699.9L174.0 699.6L170.4 698.6L167.1 697.1L164.1 694.9L161.4 692.2L159.3 689.1L157.5 685.6L156.3 681.7L155.5 677.6L155.4 673.4L155.9 669.3L156.9 665.2L158.4 661.2L160.5 657.7L162.9 654.5L165.8 651.8L169.1 649.5L172.5 647.9L176.0 646.9L179.7 646.5L183.2 646.9L186.7 647.8L190.1 649.3L193.1 651.6L195.7 654.3L197.9 657.4L199.7 660.9L200.9 664.8L201.6 668.8L201.7 673.0L201.3 677.2M199.2 676.9L198.2 680.6L196.8 684.2L195.0 687.4L192.7 690.3L190.2 692.8L187.3 694.9L184.2 696.3L180.9 697.2L177.6 697.6L174.3 697.3L171.2 696.4L168.2 695.0L165.5 693.1L163.0 690.6L161.0 687.7L159.4 684.5L158.3 680.9L157.7 677.2L157.6 673.4L158.0 669.6L159.0 665.8L160.4 662.3L162.2 659.1L164.4 656.2L167.0 653.6L169.9 651.6L173.0 650.2L176.2 649.2L179.6 648.9L182.9 649.1L186.0 650.1L189.0 651.5L191.7 653.4L194.1 655.9L196.2 658.8L197.8 662.0L198.8 665.5L199.5 669.3L199.6 673.0L199.2 676.9M183.3 674.3L183.0 675.6L182.6 676.8L182.0 677.8L181.3 678.8L180.5 679.7L179.6 680.3L178.6 680.8L177.6 681.1L176.6 681.3L175.6 681.2L174.6 680.8L173.7 680.4L172.9 679.8L172.2 679.0L171.5 678.1L171.1 677.0L170.7 675.8L170.6 674.6L170.6 673.3L170.7 672.2L171.0 670.9L171.4 669.7L171.9 668.6L172.7 667.7L173.4 666.8L174.4 666.2L175.4 665.6L176.3 665.4L177.4 665.2L178.4 665.3L179.3 665.6L180.3 666.1L181.1 666.7L181.8 667.4L182.4 668.4L182.9 669.5L183.3 670.7L183.4 671.8L183.4 673.1L183.3 674.3M184.6 674.4L198.6 676.9M184.2 676.1L197.3 681.8M183.4 677.6L195.1 686.3M182.4 679.0L192.2 690.3M181.4 680.1L188.7 693.6M180.1 680.9L184.7 695.8M178.7 681.4L180.4 697.2M177.3 681.6L176.0 697.6M175.9 681.3L171.7 696.8M174.6 680.7L167.7 695.0M173.6 679.8L164.1 692.3M172.6 678.6L161.1 688.7M171.9 677.1L158.9 684.5M171.5 675.5L157.5 679.7M171.3 673.8L157.0 674.7M171.5 672.1L157.5 669.6M171.9 670.3L158.8 664.7M172.7 668.8L161.0 660.2M173.7 667.4L163.9 656.2M174.7 666.4L167.4 652.9M176.0 665.5L171.4 650.6M177.4 665.1L175.7 649.2M178.8 664.9L180.1 648.9M180.2 665.2L184.4 649.7M181.5 665.7L188.5 651.5M182.6 666.7L192.0 654.2M183.5 667.9L195.0 657.8M184.2 669.4L197.2 662.0M184.6 671.0L198.6 666.8M184.8 672.7L199.1 671.7M184.5 674.9L198.3 678.5M183.2 678.2L194.2 687.7M180.9 680.4L187.4 694.5M178.3 681.5L178.9 697.5M175.5 681.2L170.3 696.3M173.2 679.4L163.0 691.1M171.7 676.7L158.3 682.9M171.4 673.2L157.0 673.0M172.2 669.8L159.4 663.2M174.0 667.0L165.0 655.0M176.4 665.3L172.8 650.0M179.2 665.0L181.6 649.0M181.8 666.1L189.7 652.2M183.7 668.3L195.8 659.1M184.7 671.5L198.8 668.4M185.1 675.8L197.3 680.0M183.4 679.2L192.8 688.7M180.8 681.7L185.9 694.7M177.7 682.6L177.5 696.9M174.6 681.9L169.2 695.1M172.3 679.8L162.4 689.5M170.8 676.4L158.4 681.2M170.6 672.6L157.8 671.3M171.6 668.8L160.6 661.9M173.9 665.8L166.5 654.4M176.8 664.1L174.4 650.2M180.0 664.0L182.9 650.0M182.8 665.4L190.6 653.7M184.8 668.3L196.1 660.9M185.6 671.9L198.4 670.1M190.4 677.0L200.1 680.0M189.3 679.9L198.2 685.2M187.7 682.6L195.4 689.8M185.8 684.8L191.8 693.8M183.4 686.5L187.6 696.9M180.8 687.6L183.0 699.0M178.2 688.1L178.3 699.9M175.5 688.0L173.4 699.6M172.9 687.3L168.8 698.2M170.6 685.8L164.5 695.7M168.5 683.8L160.9 692.2M166.9 681.5L158.1 687.9M165.8 678.7L156.1 683.0M165.2 675.7L155.0 677.6M165.2 672.6L155.0 672.1M165.7 669.5L156.0 666.5M166.8 666.6L157.9 661.2M168.4 663.9L160.7 656.6M170.3 661.7L164.3 652.7M172.7 659.9L168.5 649.5M175.3 658.9L173.1 647.5M177.9 658.3L177.8 646.5M180.6 658.4L182.7 646.9M183.2 659.2L187.3 648.3M185.6 660.7L191.6 650.7M187.6 662.6L195.2 654.3M189.2 665.0L198.0 658.5M190.3 667.8L200.0 663.5M190.9 670.8L201.1 668.8M190.9 673.9L201.1 674.4M190.7 675.5L190.2 677.7L189.3 679.9L188.1 681.9L186.7 683.7L185.1 685.2L183.4 686.5L181.5 687.4L179.4 688.0L177.4 688.1L175.5 688.0L173.6 687.5L171.6 686.6L170.0 685.3L168.5 683.8L167.2 682.1L166.3 680.1L165.6 677.9L165.2 675.7L165.1 673.3L165.4 671.0L165.9 668.7L166.8 666.6L168.0 664.5L169.4 662.7L171.0 661.2L172.7 659.9L174.6 659.1L176.7 658.4L178.7 658.3L180.6 658.4L182.6 659.0L184.5 659.8L186.1 661.1L187.6 662.6L188.9 664.3L189.8 666.4L190.5 668.5L190.9 670.8L191.0 673.1L190.7 675.5M141.1 666.8L150.7 667.3M141.1 667.7L150.7 668.2M140.0 675.4L149.7 676.4M140.0 676.2L149.7 677.3M142.1 685.6L150.7 687.2M142.1 686.4L150.7 688.0M144.3 657.2L155.0 657.2M144.3 658.0L155.0 658.0M149.1 648.0L159.3 649.7M149.1 648.9L159.3 650.5M157.2 641.1L166.8 642.7M157.2 641.9L166.8 643.5M167.9 635.7L178.6 636.8M167.9 636.6L178.6 637.6M149.7 702.2L157.2 703.8M149.7 703.0L157.2 704.6M145.9 694.7L153.9 695.7M145.9 695.5L153.9 696.6M167.9 635.2L171.1 646.4M183.9 635.2L180.7 645.4M173.2 714.5L175.4 702.2L182.9 700.0L183.9 710.7M174.3 704.3L181.8 702.7" fill="none" stroke="#000" stroke-width="1.15" stroke-linejoin="round" stroke-linecap="round" shape-rendering="crispEdges"/>
<path d="M514.1 655.5L520.5 647.8L527.8 639.6L536.0 635.5L543.3 633.6L552.4 634.1L561.5 636.4L570.6 641.8L578.8 651.0L582.4 661.0L583.4 672.8L580.6 684.7L577.0 693.8L568.8 705.6L559.7 711.1L550.6 714.3L543.3 710.2L535.1 710.2L526.0 708.4L518.7 702.0L514.1 693.8L514.1 655.5M581.7 678.9L580.8 683.5L579.5 687.9L577.8 692.0L575.6 695.8L573.1 699.3L570.2 702.4L567.0 705.0L563.8 707.1L560.2 708.6L556.6 709.6L552.9 710.1L549.3 709.8L545.7 709.0L542.4 707.6L539.2 705.7L536.2 703.3L533.6 700.3L531.3 697.0L529.4 693.1L528.0 689.1L526.9 684.8L526.3 680.4L526.3 675.8L526.7 671.3L527.6 666.7L528.9 662.3L530.6 658.2L532.8 654.4L535.3 650.9L538.2 647.8L541.4 645.2L544.6 643.1L548.2 641.6L551.8 640.6L555.5 640.1L559.1 640.4L562.7 641.2L566.0 642.6L569.2 644.5L572.1 646.9L574.8 649.9L577.1 653.2L579.0 657.1L580.4 661.1L581.5 665.3L582.1 669.8L582.1 674.4L581.7 678.9M577.6 678.6L576.9 682.6L575.7 686.5L574.1 690.2L572.1 693.7L569.9 696.8L567.4 699.5L564.6 701.9L561.6 703.8L558.5 705.2L555.2 706.1L552.0 706.4L548.7 706.3L545.5 705.5L542.5 704.3L539.7 702.5L537.1 700.3L534.7 697.7L532.7 694.7L531.0 691.3L529.7 687.7L528.8 683.8L528.2 679.8L528.2 675.7L528.6 671.6L529.3 667.6L530.5 663.7L532.2 660.0L534.1 656.5L536.3 653.4L538.8 650.7L541.6 648.3L544.6 646.4L547.7 645.0L551.0 644.1L554.2 643.8L557.5 643.9L560.7 644.7L563.7 645.9L566.5 647.7L569.1 649.9L571.5 652.5L573.5 655.5L575.2 658.9L576.5 662.5L577.4 666.4L578.0 670.4L578.0 674.5L577.6 678.6M575.9 677.7L575.2 681.3L574.1 684.8L572.7 688.0L571.0 691.1L569.0 693.9L566.7 696.3L564.1 698.3L561.5 700.1L558.7 701.2L555.7 702.1L552.8 702.3L549.9 702.2L547.0 701.5L544.3 700.4L541.7 698.9L539.3 697.0L537.3 694.6L535.3 691.9L533.9 688.9L532.7 685.7L531.9 682.3L531.4 678.7L531.3 675.2L531.6 671.5L532.3 668.0L533.4 664.5L534.8 661.2L536.5 658.2L538.5 655.4L540.8 653.0L543.4 651.0L546.0 649.2L548.8 648.0L551.7 647.2L554.7 646.9L557.6 647.1L560.5 647.8L563.2 648.9L565.8 650.4L568.1 652.3L570.2 654.7L572.1 657.4L573.6 660.3L574.8 663.6L575.6 667.0L576.1 670.5L576.2 674.1L575.9 677.7M512.3 664.6L517.3 664.4M512.3 665.1L517.3 664.9M512.3 665.5L517.3 665.3M510.5 675.1L517.3 675.1M510.5 675.6L517.3 675.6M510.5 676.0L517.3 676.0M512.3 684.7L517.3 685.1M512.3 685.1L517.3 685.6M512.3 685.6L517.3 686.0M520.0 646.9L526.9 647.3M520.0 647.3L526.9 647.8M520.0 647.8L526.9 648.2M527.3 639.6L534.2 640.0M527.3 640.0L534.2 640.5M527.3 640.5L534.2 640.9M535.5 635.9L543.3 635.5M535.5 636.4L543.3 635.9M535.5 636.8L543.3 636.4M543.3 633.6L552.4 634.4M543.3 634.1L552.4 634.8M543.3 634.6L552.4 635.3M518.7 702.0L526.0 702.9M518.7 702.4L526.0 703.3M518.7 702.9L526.0 703.8M525.5 708.4L534.2 709.3M525.5 708.8L534.2 709.7M525.5 709.3L534.2 710.2M516.8 655.5L523.2 656.0L526.0 658.2M516.8 664.4L522.3 666.4L526.0 670.1M516.8 675.1L523.2 677.4L526.0 681.0M516.8 685.1L521.4 688.3L526.9 693.8M526.9 647.3L530.5 651.9M534.2 640.0L536.9 644.6M543.3 635.5L544.2 639.1M514.1 655.5L526.0 649.1M520.5 647.8L528.7 647.3M527.8 639.6L535.1 640.0M520.5 656.4L519.6 673.7M521.9 657.3L523.2 665.5M518.7 668.3L523.2 677.4M519.6 678.3L524.1 688.3M517.8 688.3L526.0 699.2M526.0 702.9L535.1 707.4M523.2 697.4L532.3 702.9M552.4 634.4L554.2 640.0M561.5 636.4L559.7 641.8M570.6 641.8L567.0 647.3M536.0 635.5L537.8 642.8M514.1 664.6L514.1 665.5M515.0 693.8L527.8 693.8M514.1 675.6L526.0 675.6M532.3 688.3L529.6 673.7L536.0 657.3L543.3 650.0L559.7 644.6L576.1 657.3L575.2 681.9L567.0 692.9L552.4 701.1L541.4 700.2L532.3 688.3M543.3 650.0L546.9 666.4L547.8 681.9M545.1 649.6L550.6 666.4L552.4 681.0M536.0 657.3L545.1 668.3M537.8 656.4L546.0 667.4M559.7 644.6L553.3 665.5L556.0 669.2L568.8 658.2M557.8 653.7L554.2 664.6M565.1 656.4L568.8 658.2M529.6 674.2L543.3 673.7L545.1 681.0M530.5 676.5L541.4 675.6M532.3 688.3L541.4 681.9L547.8 682.8M533.2 690.1L542.4 683.8M547.8 682.8L543.3 700.2M552.4 684.7L552.4 700.2L543.3 700.2M548.7 684.7L547.8 697.4M555.6 681.0L557.8 676.5L571.5 676.9L567.0 688.3L555.6 681.0M565.1 677.4L564.2 686.5M568.8 677.4L567.0 685.6M569.7 661.0L568.8 677.4M552.4 701.1L567.0 692.9L575.2 681.9M541.4 700.2L545.1 708.4L552.4 705.6L568.8 693.8M535.1 702.0L543.3 710.2M536.9 701.1L545.1 709.3M530.5 693.8L541.4 705.6M531.9 692.9L542.8 704.7M544.2 666.4L545.1 681.0M547.8 666.4L550.6 681.0M535.1 673.7L535.1 681.0M537.8 673.7L538.3 681.9M559.7 646.4L575.2 658.2M543.3 651.9L536.0 659.2" fill="none" stroke="#000" stroke-width="1" stroke-linejoin="round" stroke-linecap="round" shape-rendering="crispEdges"/>
<path d="M659.7 658.7L667.4 659.1L677.7 655.3L685.4 658.3L696.5 669.8L698.7 682.3L699.1 690.4L691.4 706.7L686.7 713.5L677.7 718.7L668.3 720.4L664.8 717.8L657.1 712.7L651.1 705.0L648.6 689.5L650.7 678.8L658.4 667.3M665.7 679.3L669.1 677.5L675.1 677.1L678.1 681.0L679.4 686.1L677.7 693.0L674.3 696.8L668.3 697.2L664.4 693.8L663.6 687.8L665.7 679.3M667.4 677.5L667.4 660.0L669.6 659.1L670.0 677.5M669.6 659.1L674.7 657.8L674.3 676.7M677.7 658.7L674.7 676.7M674.7 657.8L678.1 658.7M668.3 677.5L668.4 660.4M670.8 677.5L671.0 659.6M673.0 676.9L673.6 658.7M676.0 676.9L677.0 659.1M676.8 679.3L683.7 661.3L685.4 658.3M677.7 681.0L685.4 663.0L696.5 670.7L680.3 684.0M683.3 665.6L689.7 673.3L678.5 681.8M685.4 658.3L696.5 669.8L696.1 672.4M677.3 680.1L684.5 662.1M678.1 681.4L689.3 672.8M678.5 685.3L695.7 678.4L698.7 682.3L680.3 687.8M679.4 684.4L694.8 677.5M694.8 670.7L695.7 678.4M679.4 688.7L691.4 689.5L699.1 690.4L691.4 706.7L687.1 704.1L677.7 693.4M691.4 689.5L689.7 699.8M690.5 691.3L688.0 701.5M679.8 689.5L691.0 690.4M692.2 690.0L690.1 700.7M675.1 696.4L684.5 711.8L686.7 713.5L677.7 694.7M676.8 696.4L686.3 710.1M674.3 697.2L677.7 718.7M676.0 696.4L685.4 711.4M678.5 695.5L687.1 710.1M668.3 697.2L665.7 712.7L664.8 717.8L677.7 717.8L674.3 697.2M672.5 698.1L672.5 712.7M665.7 712.7L675.1 712.7M665.7 713.5L675.1 713.5M669.1 697.7L666.7 712.7M666.6 696.4L657.1 712.7L651.1 705.0L663.1 694.7M664.8 698.1L655.4 710.1M661.4 696.4L652.8 703.2M665.7 697.2L656.7 711.8M664.0 696.4L654.1 708.0M664.0 689.5L649.0 687.8L648.6 689.5L650.7 691.3L651.1 704.1M649.4 687.8L662.3 687.8L663.1 693.0L652.8 699.8M651.1 691.3L651.6 699.8M651.6 691.3L652.1 699.8M652.2 691.7L652.5 699.4M662.3 688.7L652.8 699.0M665.7 682.7L655.4 677.5L650.7 678.8L652.8 675.0L656.3 677.1M655.4 677.5L655.0 687.0M664.8 684.4L656.3 679.3M655.8 678.0L655.4 687.0M665.7 679.3L659.7 673.3L658.4 667.3L663.1 661.3L667.4 660.0M658.4 667.3L656.3 662.1L659.7 658.7M657.1 659.6L660.6 662.1M656.3 662.1L658.4 660.4L659.3 663.4M660.2 672.8L659.0 667.4L663.6 661.8M656.3 714.4L658.4 718.7L660.6 717.8M655.4 713.5L657.6 712.7" fill="none" stroke="#000" stroke-width="1" stroke-linejoin="round" stroke-linecap="round" shape-rendering="crispEdges"/>
<path d="M602.2 670.2L607.4 668.3L609.9 681.2L604.8 682.4L602.2 670.2M606.1 674.1L606.7 676.7" fill="none" stroke="#000" stroke-width="1" stroke-linejoin="round" stroke-linecap="round" shape-rendering="crispEdges"/>
<path d="M136.1 470.4L150.0 471.2L141.7 486.4ZM98.0 491.1L103.9 488.4L110.4 490.5L117.9 492.7L126.4 493.7L131.8 492.1L139.3 489.4L139.7 490.9L132.3 493.9L126.4 495.9L117.9 495.0L110.4 492.9L103.9 490.9L98.8 493.1Z" fill="#000" stroke="none" shape-rendering="crispEdges"/>
<path d="M139.3 473.0L142.0 472.7L141.2 476.8ZM144.7 473.0L147.9 472.7L145.2 477.9ZM142.3 478.1L143.6 478.1L142.7 482.2Z" fill="#fff" stroke="none" shape-rendering="crispEdges"/>
<path d="M794.0 467.7L800.5 466.5L802.0 472.9L796.6 477.0L793.8 474.4Z" fill="url(#h2)" stroke="none" shape-rendering="crispEdges"/>
<path d="M624.2 517.7L628.0 515.2L632.3 515.6L635.7 516.9L636.6 520.3L634.9 523.7L629.7 524.6L625.0 522.9ZM666.6 528.0L670.0 526.7L670.9 530.6L667.5 531.5ZM630.6 541.7L637.4 540.0L640.0 546.9L634.0 550.0L630.6 546.9ZM654.6 492.0L656.7 491.6L657.0 493.7L655.0 494.2ZM669.2 499.3L672.2 498.9L672.6 501.0L670.0 501.4Z" fill="url(#h)" stroke="none" shape-rendering="crispEdges"/>
<path d="M613.6 629.5L624.8 626.0L626.5 630.7L624.2 633.7L616.5 635.4L613.6 631.3Z" fill="url(#h)" stroke="none" shape-rendering="crispEdges"/>
<path d="M577.9 574.5L587.3 573.6L601.0 575.3L603.6 583.0L602.7 593.3L593.3 594.2L583.9 595.0L579.6 586.5ZM632.8 543.6L640.9 550.9L642.2 562.9L633.6 567.6L631.9 560.7ZM586.4 563.3L597.6 559.9L599.3 563.3L588.2 567.6ZM625.0 556.4L628.5 556.0L628.9 559.9L625.5 560.3ZM606.2 569.3L609.6 568.4L610.5 571.9L607.0 572.7Z" fill="url(#h)" stroke="none" shape-rendering="crispEdges"/>
<path d="M337.7 624.3L345.3 621.4L347.7 624.3L340.0 627.9ZM409.8 577.2L414.3 575.5L417.6 579.5L413.1 581.6ZM422.6 600.7L426.1 600.7L424.9 608.4ZM370.1 602.2L375.4 601.0L377.5 603.7L372.1 605.7ZM395.5 530.6L400.2 530.6L400.4 532.6L395.7 532.6ZM334.1 567.5L341.8 566.8L341.9 568.4L334.4 569.1ZM381.9 542.7L386.0 541.2L387.8 543.0L383.7 544.7Z" fill="url(#h)" stroke="none" shape-rendering="crispEdges"/>
<path d="M296.1 560.5L299.8 560.2L300.4 563.4L303.0 564.7L298.8 566.1L296.1 565.5ZM292.9 570.4L296.1 568.8L302.5 569.8L302.0 574.7L297.7 575.2L293.9 574.1ZM297.7 575.2L302.0 574.7L303.8 568.8L304.9 568.8L305.2 576.3L307.9 579.5L307.6 584.3L303.6 587.0L301.4 584.3L298.8 580.0ZM290.7 566.1L293.4 564.5L294.5 567.7L291.3 569.3Z" fill="#000" stroke="none" shape-rendering="crispEdges"/>
<path d="M295.0 565.0L296.1 565.0L296.1 566.1L295.0 566.1ZM291.0 566.9L292.1 566.9L292.1 568.0L291.0 568.0ZM293.4 569.3L294.2 569.3L294.2 570.6L293.4 570.6ZM294.2 572.0L296.1 572.0L296.1 572.8L294.2 572.8ZM298.2 574.4L300.9 574.7L300.9 575.5L298.2 575.3ZM299.8 580.0L300.9 580.0L300.9 581.1L299.8 581.1ZM302.0 583.0L303.0 583.0L303.0 584.0L302.0 584.0ZM305.7 583.0L306.8 583.0L306.8 584.0L305.7 584.0ZM303.0 584.8L303.8 584.8L303.8 585.8L303.0 585.8ZM295.0 569.8L298.2 569.3L298.5 569.9L295.3 570.6ZM299.3 566.1L302.5 565.8L301.4 567.7Z" fill="#fff" stroke="none" shape-rendering="crispEdges"/>
<path d="M427.4 552.1L437.1 551.0L439.2 567.1L430.6 568.8Z" fill="url(#h)" stroke="none" shape-rendering="crispEdges"/>
<path d="M413.5 668.8L418.0 666.5L419.5 671.0L415.8 674.0ZM485.8 634.1L490.0 633.4L489.3 635.6ZM473.8 644.6L478.8 643.1L478.0 645.4ZM461.8 654.4L466.8 652.9L466.0 655.1ZM449.8 663.4L453.3 662.2L452.5 664.6Z" fill="#222" stroke="none" shape-rendering="crispEdges"/>
<path d="M173.8 637.9L180.7 637.3L185.0 643.8L175.4 646.4ZM155.5 667.9L160.4 666.8L161.4 675.4L156.1 676.4ZM189.3 680.7L199.0 682.9L195.7 689.3L189.3 686.1ZM172.2 702.2L178.6 700.0L180.7 708.6L173.2 710.7ZM197.9 660.4L203.2 661.4L202.7 670.0L197.9 667.9Z" fill="url(#h)" stroke="none" shape-rendering="crispEdges"/>
<path d="M554.2 695.6L559.7 693.8L561.5 695.6L556.0 697.2ZM526.4 672.8L528.9 672.4L529.6 688.3L527.3 690.1ZM577.0 668.3L579.3 669.2L579.5 677.4L577.4 679.2ZM544.2 666.4L546.9 666.0L547.8 672.8L545.1 673.7ZM537.8 707.4L543.3 706.5L545.1 710.2L539.6 711.1Z" fill="#000" stroke="none" shape-rendering="crispEdges"/>
<path d="M625.4 674.7L634.4 674.1L636.9 676.7L636.9 679.2L633.7 679.2L633.1 677.3L627.3 677.3L625.4 676.0Z" fill="#111" stroke="none" shape-rendering="crispEdges"/>
<path d="M194.8 182.5L169.1 182.5L136.0 384.6M311.8 182.5L287.6 182.5L253.0 385.0M392.6 182.5L368.0 182.5L357.2 231.5M442.1 182.5L417.5 182.5L410.4 213.5M498.6 182.5L476.1 182.5L460.3 255.5M570.8 182.5L544.7 182.5L521.4 321.8M662.0 182.5L637.5 182.5L591.4 437.0M899.8 212.5L874.5 212.5L677.2 351.3M883.0 272.5L873.4 272.5L765.0 354.3M899.8 329.5L874.5 329.5L803.3 389.7M906.6 390.5L876.2 390.5L670.0 500.4M899.8 451.5L874.5 451.5L620.0 612.2M621.9 780.5L646.1 780.5L663.9 719.3M575.0 780.5L598.5 780.5L626.7 687.3M548.2 780.5L572.2 780.5L601.8 685.0M501.4 780.5L526.7 780.5L545.0 715.0M399.3 779.5L422.8 779.5L450.7 693.8M282.9 779.5L306.4 779.5L328.6 709.6M196.7 779.5L220.2 779.5L292.1 587.0M616.4 528.9L580.6 548.0M892.7 272.5L899.8 272.5M879.2 327.5L899.8 327.5" fill="none" stroke="#0c00c4" stroke-width="1" shape-rendering="crispEdges"/>
<text x="179.6" y="177.9" text-anchor="middle" font-family="Liberation Sans, sans-serif" font-size="24" fill="#0c00c4">1</text>
<text x="300.2" y="179.0" text-anchor="middle" font-family="Liberation Sans, sans-serif" font-size="24" fill="#0c00c4">2</text>
<text x="381.1" y="179.7" text-anchor="middle" font-family="Liberation Sans, sans-serif" font-size="24" fill="#0c00c4">3</text>
<text x="431.0" y="179.0" text-anchor="middle" font-family="Liberation Sans, sans-serif" font-size="24" fill="#0c00c4">4</text>
<text x="487.9" y="181.2" text-anchor="middle" font-family="Liberation Sans, sans-serif" font-size="24" fill="#0c00c4">5</text>
<text x="559.9" y="177.5" text-anchor="middle" font-family="Liberation Sans, sans-serif" font-size="24" fill="#0c00c4">6</text>
<text x="648.9" y="176.0" text-anchor="middle" font-family="Liberation Sans, sans-serif" font-size="24" fill="#0c00c4">7</text>
<text x="887.1" y="209.0" text-anchor="middle" font-family="Liberation Sans, sans-serif" font-size="24" fill="#0c00c4">8</text>
<text x="887.1" y="270.8" text-anchor="middle" font-family="Liberation Sans, sans-serif" font-size="24" fill="#0c00c4">9</text>
<text x="893.5" y="325.4" text-anchor="middle" font-family="Liberation Sans, sans-serif" font-size="24" fill="#0c00c4">10</text>
<text x="892.0" y="387.5" text-anchor="middle" font-family="Liberation Sans, sans-serif" font-size="24" fill="#0c00c4">11</text>
<text x="893.5" y="445.7" text-anchor="middle" font-family="Liberation Sans, sans-serif" font-size="24" fill="#0c00c4">12</text>
<text x="633.5" y="805.7" text-anchor="middle" font-family="Liberation Sans, sans-serif" font-size="24" fill="#0c00c4">13</text>
<text x="584.5" y="806.5" text-anchor="middle" font-family="Liberation Sans, sans-serif" font-size="24" fill="#0c00c4">14</text>
<text x="553.1" y="804.4" text-anchor="middle" font-family="Liberation Sans, sans-serif" font-size="24" fill="#0c00c4">15</text>
<text x="509.4" y="802.5" text-anchor="middle" font-family="Liberation Sans, sans-serif" font-size="24" fill="#0c00c4">16</text>
<text x="409.1" y="806.1" text-anchor="middle" font-family="Liberation Sans, sans-serif" font-size="24" fill="#0c00c4">17</text>
<text x="294.4" y="805.5" text-anchor="middle" font-family="Liberation Sans, sans-serif" font-size="24" fill="#0c00c4">18</text>
<text x="207.7" y="802.9" text-anchor="middle" font-family="Liberation Sans, sans-serif" font-size="24" fill="#0c00c4">19</text>
<text x="30.3" y="159" textLength="46" lengthAdjust="spacingAndGlyphs" font-family="Liberation Serif, serif" font-size="18" fill="#000">рис. 2</text>
</svg></body></html>
